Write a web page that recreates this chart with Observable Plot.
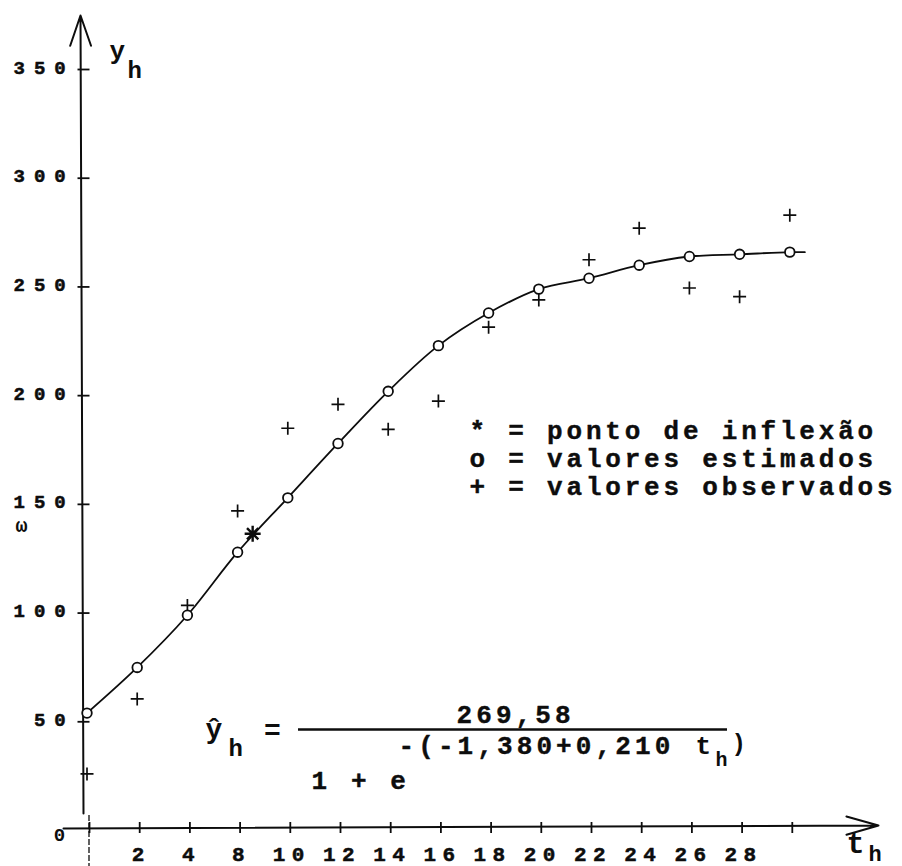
<!DOCTYPE html>
<html><head><meta charset="utf-8">
<script src="https://cdn.jsdelivr.net/npm/d3@7"></script>
<script src="https://cdn.jsdelivr.net/npm/@observablehq/plot@0.6"></script>
<style>
html,body{margin:0;padding:0;background:#fff;}
#chart svg{font-family:"Liberation Mono",monospace;font-weight:bold;background:#fff;}
</style></head><body><div id="chart"></div>
<script>
// ---- data ----
const tValues = [0, 2, 4, 6, 8, 10, 12, 14, 16, 18, 20, 22, 24, 26, 28];
const estimated = [54, 75, 99, 128, 153, 178, 202, 223, 238, 249, 254, 260, 264, 265, 266];
const observed = [26, 60.5, 103.5, 147, 185, 196, 184.5, 197.5, 231.5, 244, 262.5, 277, 249.5, 245.5, 283];
const inflectionT = [6.6];
const inflectionY = [136.5];
const curveTailT = [28.6];
const curveTailY = [266];
const xTickValues = [0, 2, 4, 6, 8, 10, 12, 14, 16, 18, 20, 22, 24, 26, 28];
const xTickLabels = ["", "2", "4", "8", "10", "12", "14", "16", "18", "20", "22", "24", "26", "28", ""];
const yTickValues = [50, 100, 150, 200, 250, 300, 350];
const yTickLabels = ["5 0", "1 0 0", "1 5 0", "2 0 0", "2 5 0", "3 0 0", "3 5 0"];
const legendLines = ["* = ponto de inflexão", "o = valores estimados", "+ = valores observados"];

// ---- layout ----
const W = 902, H = 866;
const ml = 86.5, mr = 62.5, mt = 69, mb = 36;
const xDomain = [0, 30], yDomain = [0, 350];
const xs = d3.scaleLinear(xDomain, [ml, W - mr]);
const ys = d3.scaleLinear(yDomain, [H - mb, mt]);
const px = v => xs.invert(v), py = v => ys.invert(v);

const estPts = tValues.map((t, i) => ({t, y: estimated[i]}));
const obsPts = tValues.map((t, i) => ({t, y: observed[i]}));
const curvePts = estPts.concat(curveTailT.map((t, i) => ({t, y: curveTailY[i]})));
const inflPts = inflectionT.map((t, i) => ({t, y: inflectionY[i]}));
const xTicks = xTickValues.map((t, i) => ({t, label: xTickLabels[i]}));
const yTicks = yTickValues.map((v, i) => ({v, label: yTickLabels[i]}));

const radial = size => Math.sqrt(size / Math.PI);
const hline = {draw(c, s){const r = radial(s); c.moveTo(-r, 0); c.lineTo(r, 0);}};
const vline = {draw(c, s){const r = radial(s); c.moveTo(0, -r); c.lineTo(0, r);}};
const plus = {draw(c, s){const r = radial(s); c.moveTo(-r, 0); c.lineTo(r, 0); c.moveTo(0, -r); c.lineTo(0, r);}};
const star = {draw(c, s){const r = radial(s);
  for (let k = 0; k < 4; k++){const a = k * Math.PI / 4; c.moveTo(-r*Math.cos(a), -r*Math.sin(a)); c.lineTo(r*Math.cos(a), r*Math.sin(a));}}};

const axisX = px(83);
const ink = "#0d0d0d";

const textAt = (str, xPix, yPix, opts) => Plot.text([str], {x: () => px(xPix), y: () => py(yPix), text: d => d, fill: ink, ...opts});

const chart = Plot.plot({
  width: W, height: H,
  marginLeft: ml, marginRight: mr, marginTop: mt, marginBottom: mb,
  x: {domain: xDomain, axis: null},
  y: {domain: yDomain, axis: null},
  style: {background: "#fff", overflow: "visible"},
  marks: [
    // axes
    Plot.arrow([0], {x1: axisX, x2: px(80), y1: py(813), y2: py(15), headLength: 24, headAngle: 38, stroke: ink, strokeWidth: 2}),
    Plot.arrow([0], {x1: px(63), x2: px(878), y1: py(828), y2: py(825), headLength: 25, headAngle: 32, stroke: ink, strokeWidth: 2}),
    Plot.ruleX([0], {x: px(88.5), y1: py(815), y2: py(866), stroke: ink, strokeWidth: 1.3, strokeDasharray: "6,2"}),
    Plot.dot(yTicks, {x: axisX, y: "v", symbol: hline, r: 6, fill: "none", stroke: ink, strokeWidth: 1.8}),
    Plot.dot(xTicks, {x: "t", y: py(827), dx: 2.5, symbol: vline, r: 5.5, fill: "none", stroke: ink, strokeWidth: 1.8}),
    Plot.text(yTicks, {x: axisX, y: "v", text: "label", dx: -19, dy: -2, textAnchor: "end", lineAnchor: "middle", fontSize: 19, fill: ink, stroke: ink, strokeWidth: 0.5, ariaDescription: "yticklabels"}),
    Plot.text(xTicks.filter(d => d.label), {x: "t", y: py(860), dx: 4, text: "label", textAnchor: "middle", lineAnchor: "bottom", fontSize: 21, fill: ink, stroke: ink, strokeWidth: 0.5, ariaDescription: "xticklabels"}),
    textAt("0", 59, 834, {textAnchor: "middle", lineAnchor: "middle", fontSize: 19}),
    textAt("ω", 21, 525, {textAnchor: "middle", lineAnchor: "middle", fontSize: 20}),
    // axis titles
    textAt("y", 109, 58, {textAnchor: "start", lineAnchor: "bottom", fontSize: 26}),
    textAt("h", 127, 77, {textAnchor: "start", lineAnchor: "bottom", fontSize: 24}),
    textAt("t", 846, 852, {textAnchor: "start", lineAnchor: "bottom", fontSize: 30}),
    textAt("h", 868, 860, {textAnchor: "start", lineAnchor: "bottom", fontSize: 22}),
    // fitted curve and points
    Plot.line(curvePts, {x: "t", y: "y", curve: "catmull-rom", stroke: ink, strokeWidth: 1.8}),
    Plot.dot(obsPts, {x: "t", y: "y", symbol: plus, r: 6.5, fill: "none", stroke: ink, strokeWidth: 1.7}),
    Plot.dot(estPts, {x: "t", y: "y", r: 4.8, fill: "#fff", stroke: ink, strokeWidth: 1.8}),
    Plot.dot(inflPts, {x: "t", y: "y", symbol: star, r: 8, fill: "none", stroke: ink, strokeWidth: 2.4}),
    // legend
    Plot.text(legendLines, {x: () => px(469), y: (d, i) => py(438 + 28 * i), text: d => d, textAnchor: "start", lineAnchor: "bottom", fontSize: 26, fill: ink, stroke: ink, strokeWidth: 0.4, ariaDescription: "legend"}),
    // formula
    textAt("ŷ", 205, 737, {textAnchor: "start", lineAnchor: "bottom", fontSize: 28}),
    textAt("h", 228, 755, {textAnchor: "start", lineAnchor: "bottom", fontSize: 24}),
    textAt("=", 272, 730, {textAnchor: "middle", lineAnchor: "middle", fontSize: 28}),
    Plot.ruleY([0], {y: py(729), x1: px(298), x2: px(727), stroke: ink, strokeWidth: 2.4}),
    textAt("269,58", 456, 722, {textAnchor: "start", lineAnchor: "bottom", fontSize: 26, stroke: ink, strokeWidth: 0.4, ariaDescription: "spaced"}),
    textAt("-(-1,380+0,210", 398, 753, {textAnchor: "start", lineAnchor: "bottom", fontSize: 26, stroke: ink, strokeWidth: 0.4, ariaDescription: "spaced"}),
    textAt("t", 695, 753, {textAnchor: "start", lineAnchor: "bottom", fontSize: 26}),
    textAt("h", 715, 765, {textAnchor: "start", lineAnchor: "bottom", fontSize: 20}),
    textAt(")", 731, 750, {textAnchor: "start", lineAnchor: "bottom", fontSize: 24}),
    textAt("1 + e", 311, 788, {textAnchor: "start", lineAnchor: "bottom", fontSize: 26, stroke: ink, strokeWidth: 0.4, ariaDescription: "spaced"})
  ]
});
chart.querySelectorAll('g[aria-description="spaced"] text').forEach(t => t.setAttribute("letter-spacing", "4.1"));
chart.querySelectorAll('g[aria-description="legend"] text').forEach(t => t.setAttribute("letter-spacing", "3.8"));
chart.querySelectorAll('g[aria-description="xticklabels"] text').forEach(t => t.setAttribute("letter-spacing", "6.4"));
chart.querySelectorAll('g[aria-description="yticklabels"] text').forEach(t => t.setAttribute("letter-spacing", "-1.2"));
document.getElementById("chart").appendChild(chart);
</script></body></html>
